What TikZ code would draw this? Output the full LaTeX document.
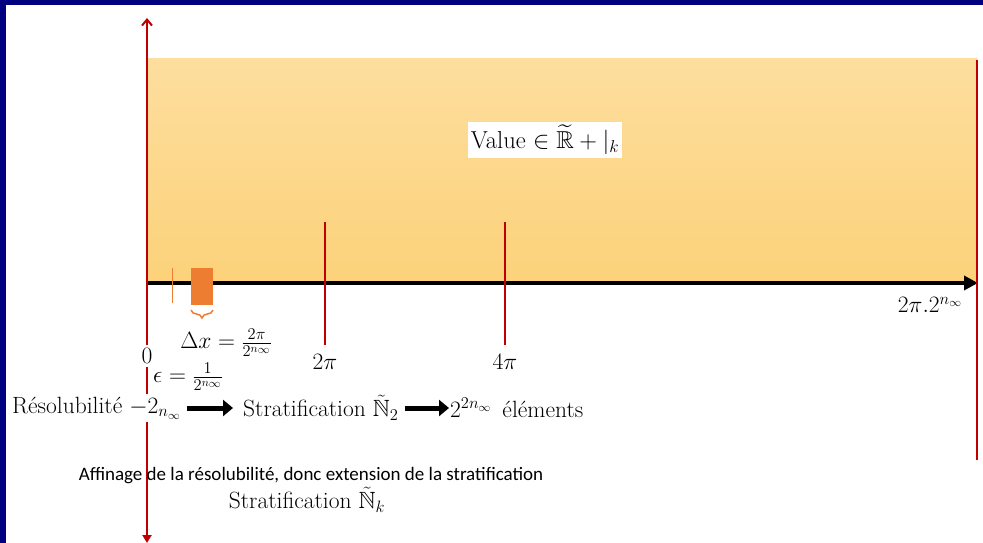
\RequirePackage{fix-cm}
\documentclass[tikz,border=0pt]{standalone}
\usepackage{amsmath,amssymb}
\usepackage{fontspec}
\newfontfamily\calib{Carlito}
\usetikzlibrary{arrows.meta,decorations.pathreplacing}
\definecolor{navyb}{RGB}{0,0,128}
\definecolor{redl}{RGB}{192,0,0}
\definecolor{orng}{RGB}{237,125,49}
\definecolor{ytop}{RGB}{253,222,158}
\definecolor{ybot}{RGB}{252,210,122}
\begin{document}
\begin{tikzpicture}[x=1pt,y=-1pt,
  lbl/.style={inner sep=0pt, font=\fontsize{23.5}{28}\selectfont},
  redline/.style={draw=redl, line width=2pt},
  bigarrow/.style={line width=5pt, -{Triangle[length=10pt,width=16pt]}},
  whitebox/.style={fill=white, inner sep=3pt}]
\useasboundingbox (0,0) rectangle (983,543);
\fill[white] (0,0) rectangle (983,543);
\fill[navyb] (0,0) rectangle (983,5);
\fill[navyb] (0,0) rectangle (6,543);
\shade[top color=ytop, bottom color=ybot] (148,59) rectangle (977,283);
% axes
\coordinate (o) at (148,283);
\coordinate (xend) at (978,283);
\coordinate (yup) at (147,18);
\coordinate (ydown) at (147,543);
\draw[redline, {Triangle[length=8pt,width=9pt]}-{Straight Barb[length=6pt,width=10pt]}] (ydown) -- (yup);
\draw[line width=3.5pt, -{Triangle[length=14pt,width=14pt]}] (o) -- (xend);
% right boundary
\coordinate (rt) at (977,60);
\coordinate (rb) at (977,460);
\draw[redline] (rt) -- (rb);
% ticks
\coordinate (t1a) at (325,222); \coordinate (t1b) at (325,345);
\coordinate (t2a) at (505,222); \coordinate (t2b) at (505,345);
\draw[redline] (t1a) -- (t1b);
\draw[redline] (t2a) -- (t2b);
% small orange marks
\coordinate (s1) at (172,268); \coordinate (s2) at (172,303);
\draw[orng, line width=1pt] (s1) -- (s2);
\fill[orng] (191,268) rectangle (213,305);
\coordinate (br1) at (213,310); \coordinate (br2) at (191,310);
\draw[orng, line width=1.5pt, decorate, decoration={brace, amplitude=8pt}] (br1) -- (br2);
% labels
\node[lbl, whitebox] (zero) at (147,356) {$0$};
\node[lbl] (twopi) at (325,362) {$2\pi$};
\node[lbl] (fourpi) at (505,362) {$4\pi$};
\node[lbl] (dx) at (226,343) {$\Delta x = \frac{2\pi}{2^{n_\infty}}$};
\node[lbl] (eps) at (188,377) {$\epsilon = \frac{1}{2^{n_\infty}}$};
\node[lbl] (xmax) at (930,305) {$2\pi.2^{n_\infty}$};
\node[inner sep=3pt, fill=white, font=\fontsize{24.5}{29}\selectfont] (value) at (545,140) {Value $\in \widetilde{\mathbb{R}} + |_k$};
% resolution row
\node[lbl, whitebox, anchor=west] (res) at (9,408) {Résolubilité $-2_{n_\infty}$};
\node[lbl, anchor=west] (strat) at (243,408) {Stratification $\tilde{\mathbb{N}}_2$};
\node[lbl, anchor=west] (elem) at (450,408) {$2^{2n_\infty}$\hspace{4pt} éléments};
\draw[bigarrow, shorten <=3pt, shorten >=10pt] (res.east) -- (strat.west);
\draw[bigarrow, shorten <=6pt, shorten >=1pt] (strat.east) -- (elem.west);
% bottom texts
\node[inner sep=0pt, font=\calib\fontsize{19}{23}\selectfont] (aff) at (311,476) {Affinage de la résolubilité, donc extension de la stratification};
\node[lbl] (stratk) at (307,500) {Stratification $\tilde{\mathbb{N}}_k$};
\end{tikzpicture}
\end{document}
